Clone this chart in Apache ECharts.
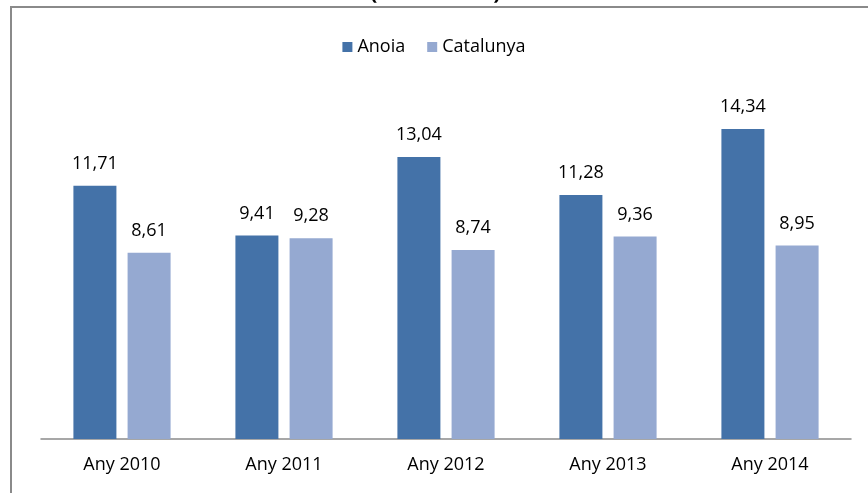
<!DOCTYPE html>
<html><head><meta charset="utf-8">
<script src="https://cdn.jsdelivr.net/npm/echarts@6/dist/echarts.min.js"></script>
<style>html,body{margin:0;padding:0;background:#fff}#c{width:868px;height:493px}</style>
</head><body><div id="c"></div>
<script>
const categories = ['Any 2010','Any 2011','Any 2012','Any 2013','Any 2014'];
const anoia = [11.71, 9.41, 13.04, 11.28, 14.34];
const catalunya = [8.61, 9.28, 8.74, 9.36, 8.95];
const seriesNames = ['Anoia','Catalunya'];
const FONT = 'Open Sans';
const chart = echarts.init(document.getElementById('c'));
const fmt = p => p.value.toFixed(2).replace('.', ',');
chart.setOption({
  animation:false,
  textStyle:{fontFamily:FONT},
  graphic:[
    {type:'rect', shape:{x:11,y:7,width:900,height:600}, style:{fill:'none', stroke:'#8a8a8a', lineWidth:2}, z:-1},
    {type:'text', left:370, top:-18, style:{text:'(taxa bruta)', font:'bold 22px "Open Sans"', fill:'#000'}}
  ],
  legend:{top:33, left:'center', itemWidth:10, itemHeight:10, itemGap:22,
    textStyle:{fontSize:18, color:'#000', fontFamily:FONT, padding:[0,0,0,0]},
    data:seriesNames, icon:'rect'},
  grid:{left:41, right:17, top:93, bottom:54},
  xAxis:{type:'category', data:categories,
    axisLine:{lineStyle:{color:'#8a8a8a', width:1.5}}, axisTick:{show:false},
    axisLabel:{fontSize:18, color:'#000', margin:17, fontFamily:FONT}},
  yAxis:{type:'value', min:0, max:16, show:false, splitLine:{show:false}},
  series:[
    {name:'Anoia', type:'bar', data:anoia, barWidth:43, barGap:'26%',
      itemStyle:{color:'#4472a8'},
      label:{show:true, position:'top', distance:13, fontSize:18, color:'#000', formatter:fmt}},
    {name:'Catalunya', type:'bar', data:catalunya, barWidth:43,
      itemStyle:{color:'#95a9d1'},
      label:{show:true, position:'top', distance:13, fontSize:18, color:'#000', formatter:fmt}}
  ]
});
</script></body></html>
